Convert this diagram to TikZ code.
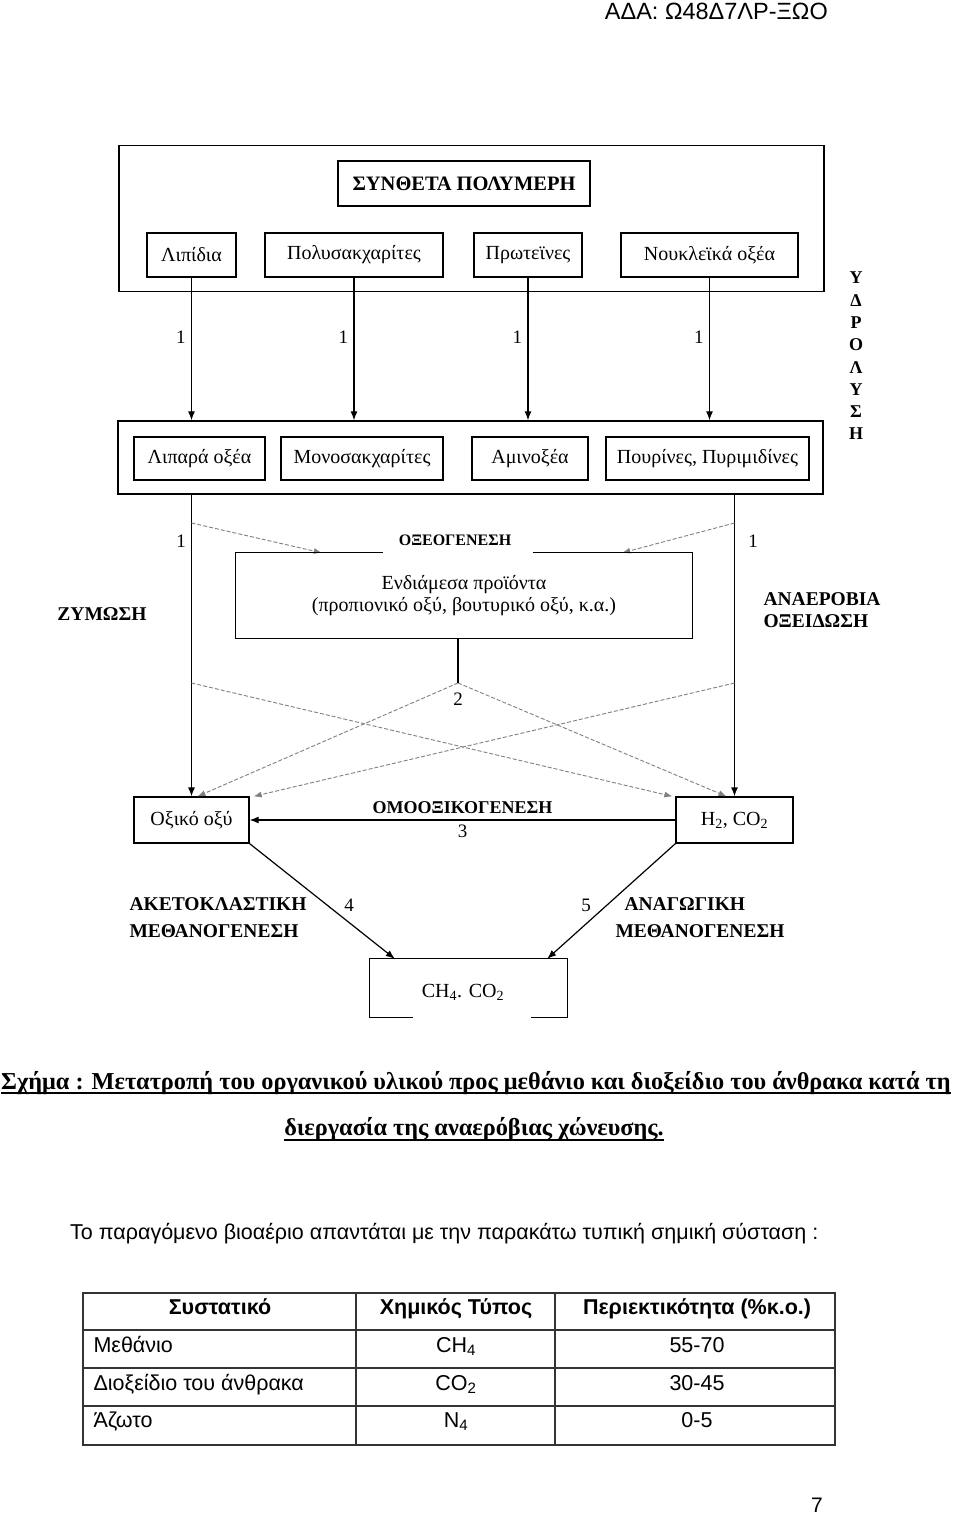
\documentclass[tikz,border=0pt]{standalone}
\usepackage{fontspec}
\setmainfont{Liberation Serif}
\newfontfamily\arialfont{Liberation Sans}
\usetikzlibrary{arrows.meta}
\begin{document}
\begin{tikzpicture}[x=1pt,y=-1pt,
    box/.style={draw,line width=1.2pt,inner sep=0pt,font=\fontsize{20}{23}\selectfont},
    frame/.style={draw,line width=1.3pt,inner sep=0pt},
    tag/.style={font=\bfseries\fontsize{19.5}{27}\selectfont,align=left},
    num/.style={font=\fontsize{19}{22}\selectfont},
    arr/.style={line width=1.2pt,-{Latex[length=9pt,width=7pt]}},
    dasharr/.style={line width=0.9pt,gray,dash pattern=on 4pt off 2pt,-{Latex[length=8pt,width=6pt]}},
    cell/.style={font=\arialfont\fontsize{21.5}{24}\selectfont,anchor=base},
    head/.style={font=\arialfont\bfseries\fontsize{21.5}{24}\selectfont,anchor=base}]
  \useasboundingbox (0,0) rectangle (960,1517);
  \fill[white] (0,0) rectangle (960,1517);
  \node[font=\arialfont\fontsize{23.5}{26}\selectfont,anchor=base east,inner sep=0pt] (ada) at (828,20) {ΑΔΑ: Ω48Δ7ΛΡ-ΞΩΟ};
  % hydrolysis
  \node[frame,minimum width=705pt,minimum height=146pt] (poly) at (471.5,218.5) {};
  \node[box,font=\bfseries\fontsize{20.5}{23}\selectfont,minimum width=252pt,minimum height=45pt] (synth) at (464,183.5) {ΣΥΝΘΕΤΑ ΠΟΛΥΜΕΡΗ};
  \node[box,minimum width=89pt,minimum height=44pt] (lip) at (191.5,255) {Λιπίδια};
  \node[box,minimum width=178pt,minimum height=44pt] (pol) at (354,255) {Πολυσακχαρίτες};
  \node[box,minimum width=108pt,minimum height=44pt] (prot) at (528,255) {Πρωτεϊνες};
  \node[box,minimum width=177pt,minimum height=44pt] (nuc) at (709.5,255) {Νουκλεϊκά οξέα};
  \node[frame,minimum width=705pt,minimum height=73pt] (mono) at (470.5,457.5) {};
  \node[box,minimum width=131pt,minimum height=43pt] (fat) at (199.5,458.5) {Λιπαρά οξέα};
  \node[box,minimum width=162pt,minimum height=43pt] (sug) at (362,458.5) {Μονοσακχαρίτες};
  \node[box,minimum width=116pt,minimum height=43pt] (amin) at (530,458.5) {Αμινοξέα};
  \node[box,minimum width=203pt,minimum height=43pt] (pur) at (707.5,458.5) {Πουρίνες, Πυριμιδίνες};
  \node[font=\bfseries\fontsize{18}{22.3}\selectfont,align=center] (hydro) at (856,356) {Υ\\Δ\\Ρ\\Ο\\Λ\\Υ\\Σ\\Η};
  % acidogenesis
  \node[font=\fontsize{20}{22}\selectfont,align=center,minimum width=456pt,minimum height=85pt,inner sep=0pt] (inter) at (464,595.5) {Ενδιάμεσα προϊόντα\\(προπιονικό οξύ, βουτυρικό οξύ, κ.α.)};
  \node[font=\bfseries\fontsize{16}{20}\selectfont] (acido) at (455,540) {ΟΞΕΟΓΕΝΕΣΗ};
  \node[tag] (ferm) at (102,614) {ΖΥΜΩΣΗ};
  \node[tag,font=\bfseries\fontsize{19.5}{22}\selectfont,anchor=west] (anox) at (760,610) {ΑΝΑΕΡΟΒΙΑ\\ΟΞΕΙΔΩΣΗ};
  \node[num] (n1l) at (181,541) {1};
  \node[num] (n1r) at (753,541) {1};
  \node[num] (n2) at (458,699) {2};
  % methanogenesis
  \node[box,minimum width=115pt,minimum height=46pt] (acet) at (191.5,820) {Οξικό οξύ};
  \node[box,minimum width=117pt,minimum height=46pt] (hco) at (734.5,820) {H\textsubscript{2}, CO\textsubscript{2}};
  \node[font=\fontsize{20}{22}\selectfont,minimum width=197pt,minimum height=58pt,inner sep=0pt] (gas) at (468.5,988) {};
  \node[font=\fontsize{20}{22}\selectfont] (gastext) at (463,992) {CH\textsubscript{4}. CO\textsubscript{2}};
  \node[tag,anchor=west] (aceto) at (126,918) {ΑΚΕΤΟΚΛΑΣΤΙΚΗ\\ΜΕΘΑΝΟΓΕΝΕΣΗ};
  \node[tag,anchor=west] (hydrog) at (612,918) {\hspace{9pt}ΑΝΑΓΩΓΙΚΗ\\ΜΕΘΑΝΟΓΕΝΕΣΗ};
  \node[num] (n4) at (349,905) {4};
  \node[num] (n5) at (586,905) {5};
  \coordinate (v) at (458,683);
  \coordinate (lx) at (acet.north |- v);
  \coordinate (rx) at (hco.north |- v);
  \coordinate (lz) at (191.5,523);
  \coordinate (rz) at (734.5,523);
  \begin{scope}[arr]
    \draw (lip.south) -- (lip.south |- mono.north) node[pos=.42,left=2pt,num] {1};
    \draw (pol.south) -- (pol.south |- mono.north) node[pos=.42,left=2pt,num] {1};
    \draw (prot.south) -- (prot.south |- mono.north) node[pos=.42,left=2pt,num] {1};
    \draw (nuc.south) -- (nuc.south |- mono.north) node[pos=.42,left=2pt,num] {1};
    \draw (acet.north |- mono.south) -- (acet.north);
    \draw (hco.north |- mono.south) -- (hco.north);
    \draw (hco.west) -- (acet.east)
      node[midway,above=2pt,font=\bfseries\fontsize{18}{20}\selectfont] (homo) {ΟΜΟΟΞΙΚΟΓΕΝΕΣΗ}
      node[midway,below=1pt,num] (n3) {3};
    \draw (acet.south east) -- ([xshift=25pt]gas.north west);
    \draw (hco.south west) -- ([xshift=-20pt]gas.north east);
  \end{scope}
  \begin{scope}[dasharr]
    \draw (lz) -- ([xshift=86pt]inter.north west);
    \draw (rz) -- ([xshift=-70pt]inter.north east);
    \draw (lx) -- ([xshift=-3pt]hco.north west);
    \draw (rx) -- ([xshift=4pt]acet.north east);
    \draw (v) -- ([xshift=6pt]acet.north);
    \draw (v) -- ([xshift=-8pt]hco.north);
  \end{scope}
  \begin{scope}[line width=1.2pt]
    \draw ([xshift=147pt]inter.north west) -- (inter.north west) -- (inter.south west)
      -- (inter.south east) -- (inter.north east) -- ([xshift=-159pt]inter.north east);
    \draw ([xshift=-6pt]inter.south) -- (v);
    \draw ([xshift=43pt]gas.south west) -- (gas.south west) -- (gas.north west)
      -- (gas.north east) -- (gas.south east) -- ([xshift=-36pt]gas.south east);
  \end{scope}
  % caption
  \node[font=\bfseries\fontsize{24.3}{28}\selectfont,anchor=base west,inner sep=0pt] (cap1) at (1,1089) {Σχήμα : Μετατροπή του οργανικού υλικού προς μεθάνιο και διοξείδιο του άνθρακα κατά τη};
  \node[font=\bfseries\fontsize{24.3}{28}\selectfont,anchor=base,inner sep=0pt] (cap2) at (474,1135) {διεργασία της αναερόβιας χώνευσης.};
  \draw[line width=1.8pt] ([yshift=-4pt]cap1.base west) -- ([yshift=-4pt]cap1.base east);
  \draw[line width=1.8pt] ([yshift=-5pt]cap2.base west) -- ([yshift=-5pt]cap2.base east);
  % table
  \node[cell,anchor=base west,inner sep=0pt] (intro) at (70,1239) {Το παραγόμενο βιοαέριο απαντάται με την παρακάτω τυπική σημική σύσταση :};
  \begin{scope}[line width=1.2pt,black!80]
    \draw (83,1293) rectangle (835,1445);
    \draw (83,1330) -- (835,1330);
    \draw (83,1368) -- (835,1368);
    \draw (83,1406) -- (835,1406);
    \draw (356,1293) -- (356,1445);
    \draw (555,1293) -- (555,1445);
  \end{scope}
  \node[head] (h1) at (220,1314) {Συστατικό};
  \node[head] (h2) at (456,1314) {Χημικός Τύπος};
  \node[head] (h3) at (697,1314) {Περιεκτικότητα (\%κ.ο.)};
  \node[cell,anchor=base west] (r1a) at (90,1352) {Μεθάνιο};
  \node[cell] (r1b) at (456,1352) {CH\textsubscript{4}};
  \node[cell] (r1c) at (697,1352) {55-70};
  \node[cell,anchor=base west] (r2a) at (90,1390) {Διοξείδιο του άνθρακα};
  \node[cell] (r2b) at (456,1390) {CO\textsubscript{2}};
  \node[cell] (r2c) at (697,1390) {30-45};
  \node[cell,anchor=base west] (r3a) at (90,1427) {Άζωτο};
  \node[cell] (r3b) at (456,1427) {N\textsubscript{4}};
  \node[cell] (r3c) at (697,1427) {0-5};
  \node[cell,font=\arialfont\fontsize{21}{24}\selectfont] (page) at (817,1512) {7};
\end{tikzpicture}
\end{document}
